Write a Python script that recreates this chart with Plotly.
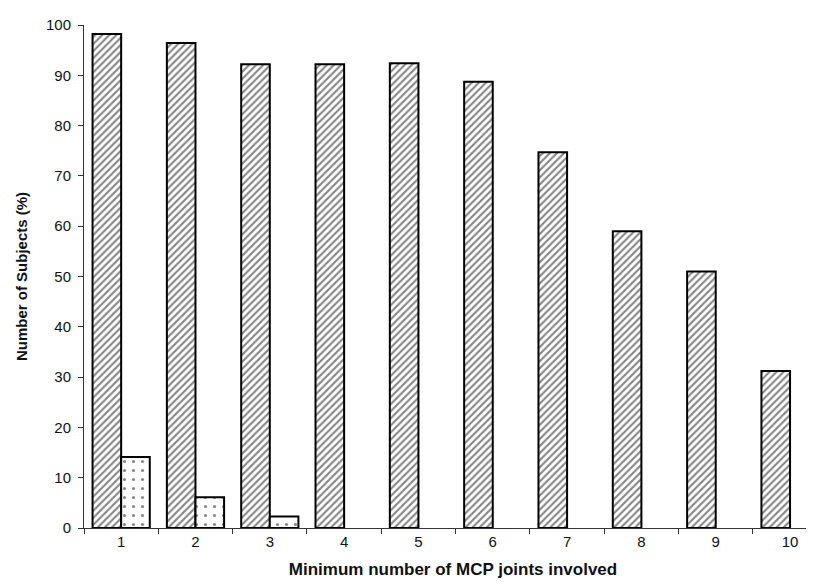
import plotly.graph_objects as go

categories = ["1", "2", "3", "4", "5", "6", "7", "8", "9", "10"]
hatched_values = [98.2, 96.4, 92.2, 92.2, 92.4, 88.7, 74.7, 59.0, 51.0, 31.2]
dotted_values = [14.1, 6.1, 2.3, 0, 0, 0, 0, 0, 0, 0]
y_ticks = [0, 10, 20, 30, 40, 50, 60, 70, 80, 90, 100]

dotted_line_widths = [2 if v > 0 else 0 for v in dotted_values]

fig = go.Figure()
fig.add_trace(go.Bar(
    x=categories, y=hatched_values, name="A",
    marker=dict(color="white", line=dict(color="black", width=2),
                pattern=dict(shape="/", size=5, solidity=0.42, fgcolor="#111", bgcolor="white")),
))
fig.add_trace(go.Bar(
    x=categories, y=dotted_values, name="B",
    marker=dict(color="white", line=dict(color="black", width=dotted_line_widths),
                pattern=dict(shape=".", size=9, solidity=0.1, fgcolor="#111", bgcolor="white")),
))

fig.update_layout(
    width=814, height=585,
    margin=dict(l=76, r=0, t=17, b=65),
    paper_bgcolor="white", plot_bgcolor="white",
    showlegend=False,
    barmode="group", bargap=0.23, bargroupgap=0,
    font=dict(family="Liberation Sans, Arial, sans-serif", size=15, color="#111"),
    xaxis=dict(
        type="category", range=[-0.5, 9.43],
        showline=True, linecolor="#333", linewidth=1,
        ticks="outside", tickson="boundaries", ticklen=5, tickcolor="#333",
        showgrid=False,
        title=dict(text="<b>Minimum number of MCP joints involved</b>", font=dict(size=17), standoff=14),
    ),
    yaxis=dict(
        range=[0, 100], tickvals=y_ticks,
        showline=True, linecolor="#333", linewidth=1,
        ticks="outside", ticklen=5, tickcolor="#333",
        ticklabelstandoff=4,
        showgrid=False, zeroline=False,
        title=dict(text="<b>Number of Subjects (%)</b>", font=dict(size=15), standoff=14),
    ),
)

fig.write_html("out.html")
